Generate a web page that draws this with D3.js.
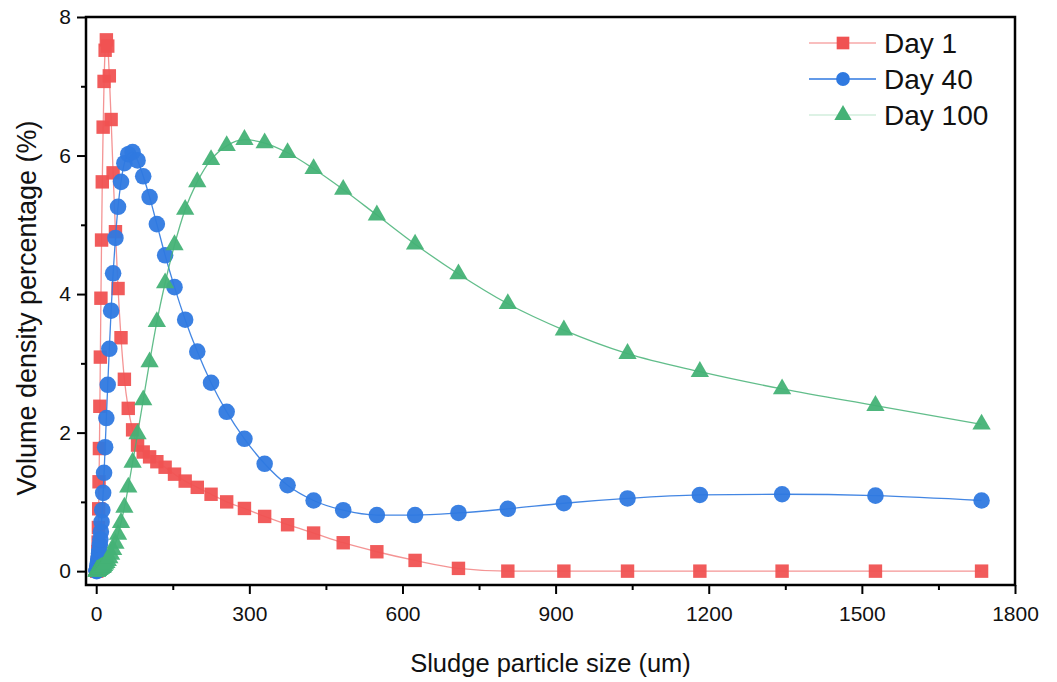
<!DOCTYPE html>
<html>
<head>
<meta charset="utf-8">
<script src="https://cdn.jsdelivr.net/npm/d3@7"></script>
<style>
    body { margin: 0; background: #fff; }
    svg { display: block; font-family: "Liberation Sans", Arial, sans-serif; }
    .axis text { font-size: 21px; fill: #111; }
    .axis line { stroke: #000; stroke-width: 2; }
    .axis path { display: none; }
</style>
</head>
<body>
<div id="chart"></div>
<script>
// particle size bins (um), shared by all three measurements
const sizes = [0.93, 1.06, 1.20, 1.36, 1.55, 1.76, 2.00, 2.27, 2.58, 2.93, 3.33, 3.78, 4.30, 4.88, 5.55,
    6.30, 7.16, 8.13, 9.24, 10.5, 11.9, 13.6, 15.4, 17.5, 19.9, 22.6, 25.7, 29.2, 33.1, 37.7, 42.8,
    48.6, 55.2, 62.8, 71.3, 81.0, 92.1, 104.6, 118.8, 135.0, 153.4, 174.3, 198.0, 225.0, 255.6,
    290.4, 330.0, 374.9, 425.9, 483.9, 549.8, 624.7, 709.7, 806.4, 916.2, 1040.9, 1182.6, 1343.7,
    1526.6, 1734.5];

const day1 = [0.00, 0.01, 0.01, 0.02, 0.03, 0.05, 0.07, 0.10, 0.14, 0.20, 0.28, 0.42, 0.63, 0.90, 1.29,
    1.77, 2.38, 3.09, 3.94, 4.78, 5.62, 6.41, 7.07, 7.52, 7.67, 7.58, 7.15, 6.52, 5.75, 4.90, 4.08,
    3.37, 2.77, 2.35, 2.04, 1.82, 1.72, 1.65, 1.58, 1.50, 1.40, 1.30, 1.21, 1.11, 1.00,
    0.905, 0.79, 0.67, 0.55, 0.41, 0.28, 0.155, 0.04, 0, 0, 0, 0, 0,
    0, 0];

const day40 = [0.00, 0.01, 0.01, 0.02, 0.02, 0.03, 0.04, 0.05, 0.07, 0.09, 0.11, 0.14, 0.17, 0.21, 0.26,
    0.31, 0.38, 0.46, 0.57, 0.71, 0.88, 1.13, 1.42, 1.79, 2.21, 2.69, 3.21, 3.76, 4.30, 4.81, 5.26,
    5.62, 5.89, 6.02, 6.05, 5.93, 5.70, 5.40, 5.01, 4.56, 4.10, 3.63, 3.17, 2.72, 2.30,
    1.91, 1.55, 1.24, 1.02, 0.88, 0.81, 0.81, 0.84, 0.90, 0.98, 1.05, 1.10, 1.11,
    1.09, 1.02];

const day100 = [0.00, 0.00, 0.00, 0.00, 0.01, 0.01, 0.01, 0.01, 0.01, 0.01, 0.01, 0.02, 0.02, 0.02, 0.02,
    0.03, 0.03, 0.04, 0.04, 0.05, 0.05, 0.06, 0.08, 0.10, 0.12, 0.15, 0.19, 0.24, 0.31, 0.40, 0.53,
    0.70, 0.92, 1.21, 1.57, 1.98, 2.47, 3.02, 3.60, 4.16, 4.71, 5.22, 5.62, 5.94, 6.14,
    6.23, 6.18, 6.04, 5.81, 5.51, 5.14, 4.72, 4.29, 3.86, 3.48, 3.14, 2.88, 2.63,
    2.39, 2.12];

const seriesNames = ["Day 1", "Day 40", "Day 100"];
const xTicks = [0, 300, 600, 900, 1200, 1500, 1800];
const xMinorTicks = [150, 450, 750, 1050, 1350, 1650];
const yTicks = [0, 2, 4, 6, 8];
const yMinorTicks = [1, 3, 5, 7];

const config = {
    containerWidth: 1057,
    containerHeight: 682,
    margin: {top: 17, right: 42, bottom: 97, left: 86}
};
config.width = config.containerWidth - config.margin.left - config.margin.right;
config.height = config.containerHeight - config.margin.top - config.margin.bottom;

const styles = [
    {fill: "#f05252", line: "#f07070", lineOpacity: 0.75, legendLine: "#f7a9a9", symbol: d3.symbolSquare, size: 180, legendSize: 160},
    {fill: "#2f79e0", line: "#2f79e0", lineOpacity: 0.9, legendLine: "#2f79e0", symbol: d3.symbolCircle, size: 215, legendSize: 150},
    {fill: "#45b276", line: "#45b276", lineOpacity: 0.85, legendLine: "#d2eedd", symbol: d3.symbolTriangle, size: 145, legendSize: 130}
];

const svg = d3.select("#chart").append("svg")
    .attr("width", config.containerWidth)
    .attr("height", config.containerHeight);

const chart = svg.append("g")
    .attr("transform", `translate(${config.margin.left},${config.margin.top})`);

const xScale = d3.scaleLinear().domain([-20, 1800]).range([0, config.width]);
const yScale = d3.scaleLinear().domain([-0.2, 8]).range([config.height, 0]);

// axes: major ticks with labels, minor ticks without
chart.append("g")
    .attr("class", "axis x-axis")
    .attr("transform", `translate(0,${config.height})`)
    .call(d3.axisBottom(xScale).tickValues(xTicks).tickSize(9).tickPadding(12).tickFormat(d3.format("d")));

chart.append("g")
    .attr("class", "axis x-axis minor")
    .attr("transform", `translate(0,${config.height})`)
    .call(d3.axisBottom(xScale).tickValues(xMinorTicks).tickSize(5).tickFormat(""));

chart.append("g")
    .attr("class", "axis y-axis")
    .call(d3.axisLeft(yScale).tickValues(yTicks).tickSize(9).tickPadding(6).tickFormat(d3.format("d")));

chart.append("g")
    .attr("class", "axis y-axis minor")
    .call(d3.axisLeft(yScale).tickValues(yMinorTicks).tickSize(5).tickFormat(""));

// frame
chart.append("rect")
    .attr("width", config.width)
    .attr("height", config.height)
    .attr("fill", "none")
    .attr("stroke", "#000")
    .attr("stroke-width", 2.5);

const line = d3.line()
    .x(d => xScale(d[0]))
    .y(d => yScale(d[1]))
    .curve(d3.curveMonotoneX);

[day1, day40, day100].forEach((values, i) => {
    const st = styles[i];
    const points = sizes.map((s, j) => [s, values[j]]);
    const g = chart.append("g").attr("class", "series");

    g.append("path")
        .datum(points)
        .attr("d", line)
        .attr("fill", "none")
        .attr("stroke", st.line)
        .attr("stroke-opacity", st.lineOpacity)
        .attr("stroke-width", 1.3);

    g.selectAll("path.mark")
        .data(points)
        .join("path")
        .attr("class", "mark")
        .attr("d", d3.symbol().type(st.symbol).size(st.size))
        .attr("transform", d => `translate(${xScale(d[0])},${yScale(d[1])})`)
        .attr("fill", st.fill)
        .attr("fill-opacity", 0.95);
});

// axis titles
svg.append("text")
    .attr("x", config.margin.left + config.width / 2)
    .attr("y", 672)
    .attr("text-anchor", "middle")
    .attr("font-size", 25.5)
    .attr("fill", "#111")
    .text("Sludge particle size (um)");

svg.append("text")
    .attr("transform", `translate(36,${config.margin.top + config.height / 2 + 7}) rotate(-90)`)
    .attr("text-anchor", "middle")
    .attr("font-size", 27)
    .attr("fill", "#111")
    .text("Volume density percentage (%)");

// legend
const legend = svg.append("g").attr("transform", "translate(809,43)");
seriesNames.forEach((name, i) => {
    const st = styles[i];
    const row = legend.append("g").attr("transform", `translate(0,${i * 36})`);
    row.append("line")
        .attr("x1", 0).attr("x2", 67)
        .attr("stroke", st.legendLine)
        .attr("stroke-width", 1.5);
    row.append("path")
        .attr("d", d3.symbol().type(st.symbol).size(st.legendSize))
        .attr("transform", "translate(34,0)")
        .attr("fill", st.fill);
    row.append("text")
        .attr("x", 75)
        .attr("y", 0)
        .attr("dy", "0.36em")
        .attr("font-size", 28)
        .attr("fill", "#111")
        .text(name);
});
</script>
</body>
</html>
